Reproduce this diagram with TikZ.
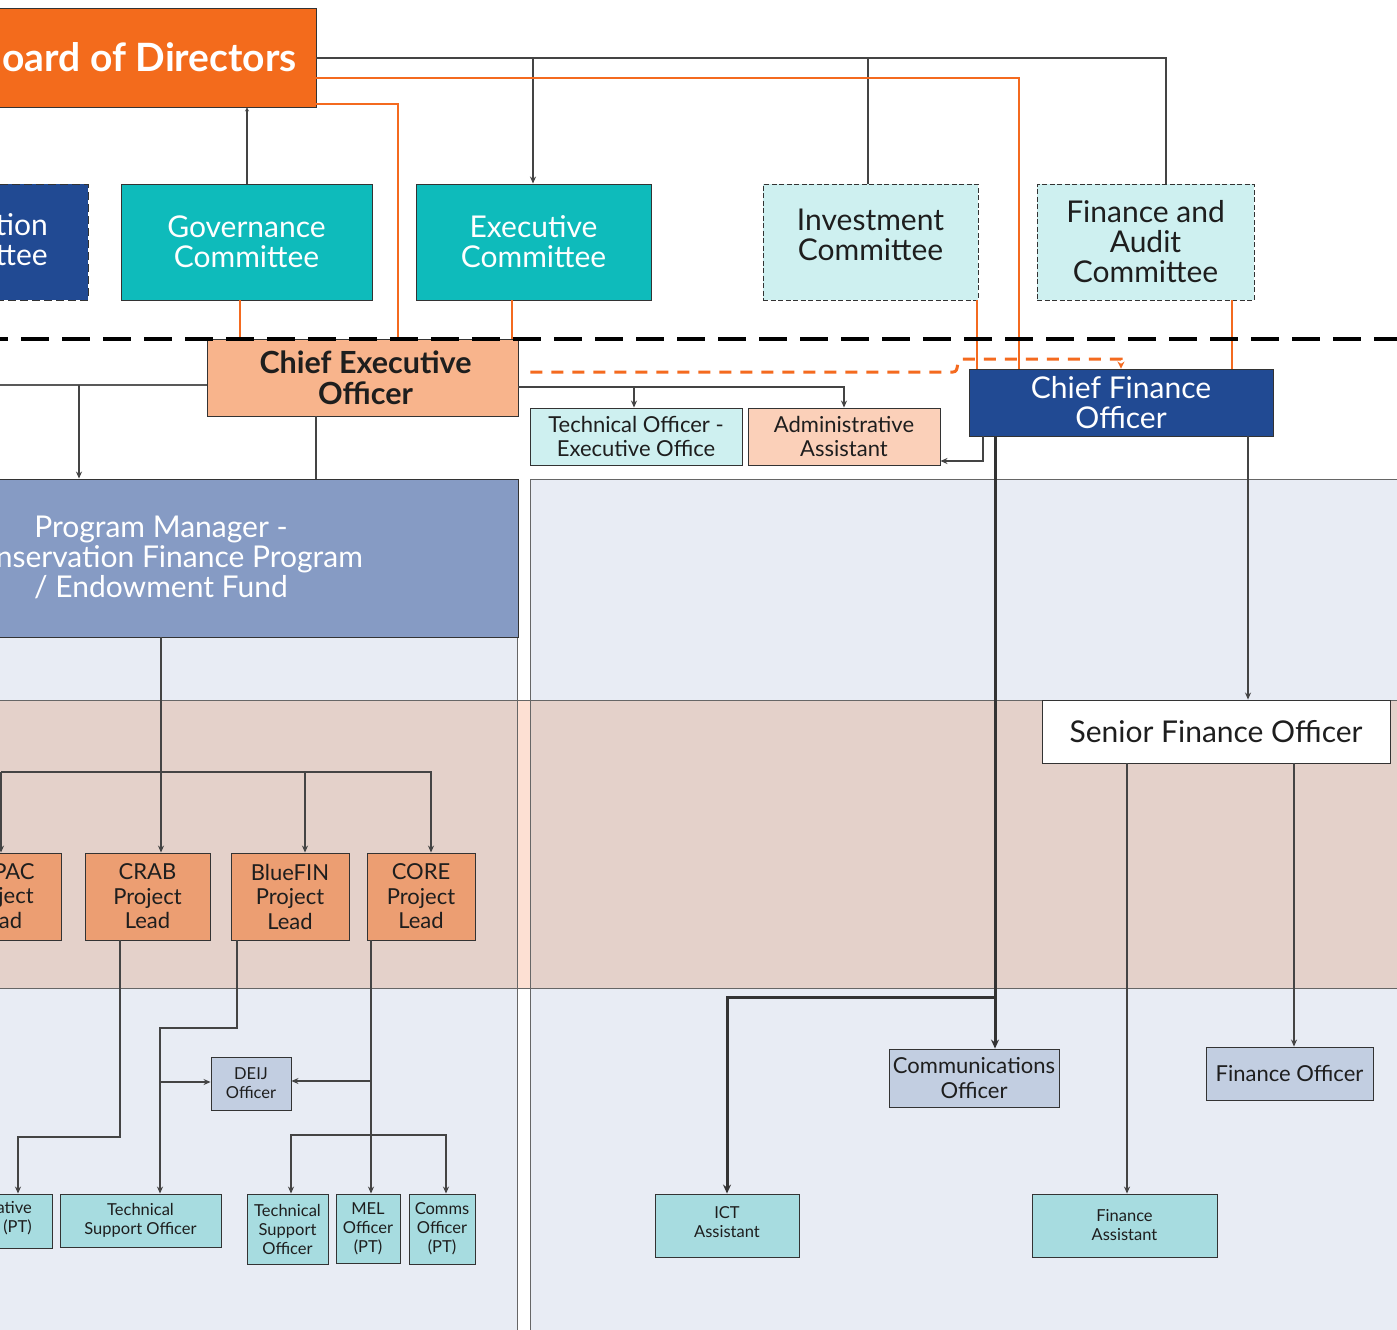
\documentclass[tikz,border=0pt]{standalone}
\usepackage{fontspec}
\setmainfont{Lato}
\usetikzlibrary{arrows.meta}
\definecolor{borange}{HTML}{F36B1C}
\definecolor{oline}{HTML}{F46A1F}
\definecolor{tealc}{HTML}{0EBBBB}
\definecolor{lcyan}{HTML}{CEF0F0}
\definecolor{dblue}{HTML}{214A93}
\definecolor{ceopeach}{HTML}{F8B48C}
\definecolor{lpeach}{HTML}{FBD0B9}
\definecolor{pmblue}{HTML}{869BC4}
\definecolor{bandc}{HTML}{E4D1CA}
\definecolor{lanec}{HTML}{E8ECF4}
\definecolor{gapc}{HTML}{FDE0D3}
\definecolor{leadc}{HTML}{EC9E72}
\definecolor{bteal}{HTML}{A7DCE0}
\definecolor{gblue}{HTML}{C2CEE1}
\definecolor{bdr}{HTML}{333333}
\definecolor{lnc}{HTML}{444444}
\definecolor{txtc}{HTML}{1E1E1E}
\begin{document}
\begin{tikzpicture}[x=1pt,y=-1pt,
  box/.style={draw=bdr,line width=0.9pt,inner sep=0pt,align=center,text=txtc},
  dbox/.style={box,dash pattern=on 5pt off 2.5pt},
  txt/.style={inner sep=0pt,align=center,text=txtc},
  fsbig/.style={font=\fontsize{30}{30}\selectfont},
  fsceo/.style={font=\fontsize{30.5}{31}\selectfont\bfseries},
  fsboard/.style={font=\fontsize{39}{40}\selectfont\bfseries},
  fsmid/.style={font=\fontsize{22}{24.5}\selectfont},
  fssmall/.style={font=\fontsize{16.5}{19}\selectfont},
  ln/.style={draw=lnc,line width=1.3pt},
  lnb/.style={draw=lnc,line width=2pt},
  thk/.style={draw=bdr,line width=3pt},
  oln/.style={draw=oline,line width=1.4pt},
  arr/.style={-{Stealth[length=7pt,width=6pt]}},
  arrb/.style={-{Stealth[length=9pt,width=8pt]}},
  lanebox/.style={fill=lanec,draw=gray!80!black,line width=1pt}
]
\useasboundingbox (0,0) rectangle (1397,1330);
\clip (0,0) rectangle (1397,1330);
\fill[white] (0,0) rectangle (1397,1330);

% lanes
\path[lanebox] (-5,479) rectangle (517,1340);
\path[lanebox] (530,479) rectangle (1405,1340);
\fill[bandc] (-5,700) rectangle (1405,988);
\fill[gapc] (517,700) rectangle (530,988);
\draw[gray!80!black,line width=1pt] (-5,700) -- (1405,700);
\draw[gray!80!black,line width=1pt] (-5,988) -- (1405,988);
\draw[gray!80!black,line width=1pt] (517,479) -- (517,1340);
\draw[gray!80!black,line width=1pt] (530,479) -- (530,1340);

% governance row
\node[box,fill=borange,minimum width=356,minimum height=99] (bod) at (138,57.5) {};
\node[txt,fsboard,text=white,anchor=base east] (bodt) at (297,71) {oard of Directors};
\node[box,dash pattern=on 8pt off 4pt,fill=dblue,minimum width=128,minimum height=116] (nom) at (24,242) {};
\node[txt,fsbig,text=white,anchor=east,align=right] (nomt) at (48,240) {tion\\ttee};
\node[box,fill=tealc,text=white,fsbig,minimum width=251,minimum height=116] (gov) at (246.5,242) {Governance\\Committee};
\node[box,fill=tealc,text=white,fsbig,minimum width=235,minimum height=116] (exe) at (533.5,242) {Executive\\Committee};
\node[dbox,fill=lcyan,fsbig,minimum width=215,minimum height=116] (inv) at (870.5,242) {Investment\\Committee\\[-16pt]\mbox{}};
\node[dbox,fill=lcyan,fsbig,minimum width=217,minimum height=116] (fac) at (1145.5,242) {Finance and\\Audit\\Committee};

% executive row
\node[box,fill=ceopeach,fsceo,minimum width=311,minimum height=77] (ceo) at (362.5,377.5) {\hspace*{6pt}Chief Executive\\\hspace*{6pt}Officer};
\node[box,fill=lcyan,fsmid,minimum width=212,minimum height=57] (teo) at (636,436.5) {Technical Officer -\\Executive Office};
\node[box,fill=lpeach,fsmid,minimum width=192,minimum height=57] (adm) at (844,436.5) {Administrative\\Assistant};
\node[box,fill=dblue,text=white,fsbig,minimum width=304,minimum height=67] (cfo) at (1121,402.5) {Chief Finance\\Officer};

% program manager
\node[box,fill=pmblue,minimum width=558,minimum height=158] (pm) at (239,558) {};
\node[txt,text=white,fsbig] (pmt) at (161,557) {Program Manager -\\\phantom{Co}nservation Finance Program\\/ Endowment Fund};

\node[box,fill=white,fsbig,minimum width=348,minimum height=63] (sfo) at (1216,731.5) {Senior Finance Officer};

% project leads
\node[box,fill=leadc,minimum width=101,minimum height=87] (pac) at (10.5,896.5) {};
\node[txt,fsmid] (pact) at (-0.5,896) {\hspace*{29pt}PAC\\\phantom{Pro}ject\\\phantom{Le}ad};
\node[box,fill=leadc,fsmid,minimum width=125,minimum height=87] (crab) at (147.5,896.5) {CRAB\\Project\\Lead};
\node[box,fill=leadc,fsmid,minimum width=118,minimum height=87] (blue) at (290,896.5) {BlueFIN\\Project\\Lead};
\node[box,fill=leadc,fsmid,minimum width=108,minimum height=87] (core) at (421,896.5) {CORE\\Project\\Lead};

\node[box,fill=gblue,fssmall,minimum width=80,minimum height=53] (deij) at (251,1083.5) {DEIJ\\Officer};

% bottom row
\node[box,fill=bteal,minimum width=92,minimum height=54] (ative) at (6,1221) {};
\node[txt,fssmall,anchor=east,align=right] (ativet) at (32,1218) {ative\\(PT)};
\node[box,fill=bteal,fssmall,minimum width=161,minimum height=53] (tso1) at (140.5,1220.5) {Technical\\Support Officer};
\node[box,fill=bteal,fssmall,minimum width=81,minimum height=70] (tso2) at (287.5,1229) {Technical\\Support\\Officer};
\node[box,fill=bteal,fssmall,minimum width=64,minimum height=69] (mel) at (368,1228.5) {MEL\\Officer\\(PT)};
\node[box,fill=bteal,fssmall,minimum width=66,minimum height=70] (com) at (442,1229) {Comms\\Officer\\(PT)};
\node[box,fill=bteal,fssmall,minimum width=144,minimum height=63] (ict) at (727,1225.5) {ICT\\Assistant\\[-13pt]\mbox{}};
\node[box,fill=bteal,fssmall,minimum width=185,minimum height=63] (fa) at (1124.5,1225.5) {Finance\\Assistant};
\node[box,fill=gblue,fsmid,minimum width=170,minimum height=58] (cmo) at (974,1078) {Communications\\Officer};
\node[box,fill=gblue,fsmid,minimum width=167,minimum height=53] (fo) at (1289.5,1073.5) {Finance Officer};

% coordinates for branches
\coordinate (bx1) at (533,58);
\coordinate (bx2) at (868,58);
\coordinate (lft) at (-5,385);
\coordinate (c79) at (79,385);
\coordinate (t634) at (634,387);
\coordinate (cmj) at (995,997);
\coordinate (pa) at (1,772);
\coordinate (pb) at (305,772);
\coordinate (bj) at (160,1082);
\coordinate (cj1) at (371,1081);
\coordinate (cj2) at (371,1135);

% board connectors
\draw[ln] (bod.east |- 0,58) -| (fac.north -| 1166,0);
\draw[ln,arr] (bx1) -- (exe.north -| bx1);
\draw[ln] (bx2) -- (inv.north -| bx2);
\draw[ln,-{Stealth[length=4pt,width=4pt]}] (gov.north -| 247,0) -- (bod.south -| 247,0);

% orange reporting lines
\draw[oln] (bod.east |- 0,78) -| (cfo.north -| 1019,0);
\draw[oln] (bod.east |- 0,104) -| (ceo.north -| 398,0);
\draw[oln] (gov.south -| 240,0) -- (ceo.north -| 240,0);
\draw[oln] (exe.south -| 512,0) -- (ceo.north -| 512,0);
\draw[oln] (inv.south -| 977,0) -- (cfo.north -| 977,0);
\draw[oln] (fac.south -| 1232,0) -- (cfo.north -| 1232,0);
\draw[oline,line width=3pt,dash pattern=on 12pt off 9pt,shorten <=12pt,-{Stealth[length=7pt,width=7pt]}]
  (ceo.east |- 0,372) -- (953,372) .. controls (960,372) and (955,359) .. (962,359) -- (1121,359) -- (cfo.north -| 1121,0);

% CEO connectors
\draw[lnb,draw=gray!70!black] (ceo.west |- 0,385) -- (lft);
\draw[lnb,arr] (c79) -- (pm.north -| c79);
\draw[lnb] (ceo.south -| 316,0) -- (pm.north -| 316,0);
\draw[ln,arr] (ceo.east |- 0,387) -| (adm.north);
\draw[ln,arr] (t634) -- (teo.north -| t634);

% CFO connectors
\draw[ln,arr] (cfo.south -| 983,0) |- (adm.east |- 0,461);
\draw[thk,arrb] (cfo.south -| 995,0) -- (cmo.north -| 995,0);
\draw[thk,arrb] (cmj) -| (ict.north);
\draw[ln,arr] (cfo.south -| 1248,0) -- (sfo.north -| 1248,0);
\draw[ln,arr] (sfo.south -| 1127,0) -- (fa.north -| 1127,0);
\draw[ln,arr] (sfo.south -| 1294,0) -- (fo.north -| 1294,0);

% program connectors
\draw[ln,arr] (pm.south -| 161,0) -- (crab.north -| 161,0);
\draw[ln,arr] (pa) -| (core.north -| 431,0);
\draw[ln,arr] (pa) -- (pac.north -| pa);
\draw[ln,arr] (pb) -- (blue.north -| pb);
\draw[ln,arr] (crab.south -| 120,0) |- (18,1137) -- (ative.north -| 18,0);
\draw[ln,arr] (blue.south -| 237,0) |- (160,1028) -- (tso1.north -| 160,0);
\draw[ln,arr] (bj) -- (deij.west |- bj);
\draw[ln,arr] (core.south -| 371,0) -- (mel.north -| 371,0);
\draw[ln,arr] (cj1) -- (deij.east |- cj1);
\draw[ln,arr] (cj2) -| (tso2.north -| 291,0);
\draw[ln,arr] (cj2) -| (com.north -| 446,0);

% dashed separator
\draw[black,line width=4pt,dash pattern=on 28pt off 13pt,dash phase=20pt] (0,339) -- (1397,339);
\end{tikzpicture}
\end{document}
